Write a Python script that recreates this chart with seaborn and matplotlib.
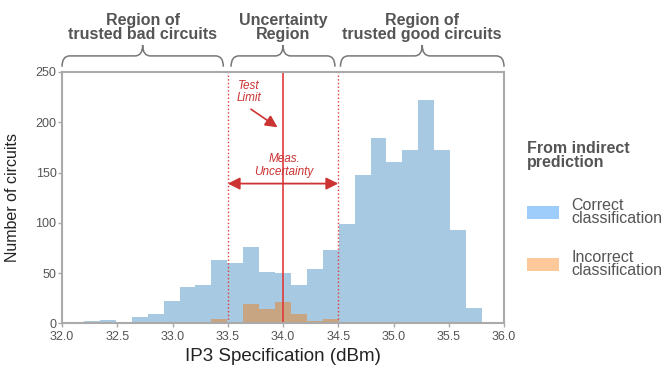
import numpy as np
import pandas as pd
import matplotlib
matplotlib.use("Agg")
import matplotlib.pyplot as plt
from matplotlib.path import Path
from matplotlib.patches import PathPatch, Patch
import matplotlib.transforms as mtransforms
import seaborn as sns

# histogram: 25 bins between 32.2 and 35.8 dBm
bin_lo, bin_hi, n_bins = 32.2, 35.8, 25
correct_counts = [2, 3, 0, 6, 9, 22, 36, 38, 63, 60, 76, 51, 50,
                  38, 54, 73, 99, 148, 184, 160, 172, 222, 172, 93, 15]
incorrect_counts = [0, 0, 0, 0, 0, 0, 0, 0, 4, 1, 19, 14, 21,
                    9, 2, 4, 0, 0, 0, 0, 0, 0, 0, 0, 0]
legend_labels = ["Correct\nclassification", "Incorrect\nclassification"]
region_labels = ["Region of\ntrusted bad circuits", "Uncertainty\nRegion",
                 "Region of\ntrusted good circuits"]
region_bounds = [(32.0, 33.46), (33.53, 34.47), (34.52, 36.0)]
test_limit = 34.0
guard_band = (33.5, 34.5)

edges = np.linspace(bin_lo, bin_hi, n_bins + 1)
centers = (edges[:-1] + edges[1:]) / 2
df = pd.DataFrame({"ip3": centers, "correct": correct_counts,
                   "incorrect": incorrect_counts})

sns.set_theme(style="white")
plt.rcParams['font.family'] = ['Liberation Sans', 'DejaVu Sans']

gray_txt = "#555555"
axis_gray = "#AAAAAA"
red = "#E03A3A"
dark_red = "#CC3333"
blue = "#A7C9E1"
orange = "#D7965A"

fig = plt.figure(figsize=(6.7, 3.68), dpi=100)
ax = fig.add_axes([62 / 670, 1 - 323.3 / 368, 442 / 670, 251.3 / 368])

sns.histplot(data=df, x="ip3", weights="correct", bins=n_bins,
             binrange=(bin_lo, bin_hi), element="step",
             fill=True, color=blue, alpha=1, linewidth=0, ax=ax)
sns.histplot(data=df, x="ip3", weights="incorrect", bins=n_bins,
             binrange=(bin_lo, bin_hi), element="step",
             fill=True, color=orange, alpha=0.7, linewidth=0, ax=ax)

ax.set_xlim(32.0, 36.0)
ax.set_ylim(0, 250)
ax.set_xticks(np.arange(32.0, 36.01, 0.5))
ax.set_xticklabels([f"{v:.1f}" for v in np.arange(32.0, 36.01, 0.5)])
ax.set_yticks(np.arange(0, 251, 50))
ax.tick_params(axis="both", which="both", length=3, width=1, color=axis_gray,
               labelsize=9, labelcolor=gray_txt, direction="out",
               bottom=True, left=True)
ax.tick_params(axis="x", pad=2.5)
ax.tick_params(axis="y", pad=1)
for s in ax.spines.values():
    s.set_color(axis_gray)
    s.set_linewidth(1.5)

ax.set_xlabel("IP3 Specification (dBm)", fontsize=13.5, color="#222222", labelpad=4)
ax.set_ylabel("Number of circuits", fontsize=11.5, color="#222222", labelpad=11)

# test limit and measurement uncertainty
ax.axvline(guard_band[0], color=red, lw=1, ls=":")
ax.axvline(guard_band[1], color=red, lw=1, ls=":")
ax.axvline(test_limit, color=red, lw=1.2)
ax.annotate("", xy=(guard_band[0], 139), xytext=(guard_band[1], 139),
            arrowprops=dict(arrowstyle="<|-|>,head_length=0.6,head_width=0.3",
                            color=dark_red, lw=1.3, shrinkA=0, shrinkB=0))
ax.text(34.01, 157, "Meas.\nUncertainty", color=dark_red, fontsize=8.5,
        style="italic", ha="center", va="center", linespacing=1.05)
ax.text(33.69, 230, "Test\nLimit", color=dark_red, fontsize=8.5,
        style="italic", ha="center", va="center", linespacing=1.05)
ax.annotate("", xy=(33.95, 195), xytext=(33.71, 213),
            arrowprops=dict(arrowstyle="-|>,head_length=0.6,head_width=0.3",
                            color=dark_red, lw=1.2, shrinkA=0, shrinkB=0))

# curly braces above the plot
trans = mtransforms.blended_transform_factory(ax.transData, ax.transAxes)
y_end, y_mid, y_top = 1.021, 1.064, 1.107
r = 0.07
for (x0, x1), lab in zip(region_bounds, region_labels):
    xc = (x0 + x1) / 2
    verts = [(x0, y_end), (x0, y_mid), (x0 + r, y_mid),
             (xc - r, y_mid), (xc, y_mid), (xc, y_top),
             (xc, y_mid), (xc + r, y_mid),
             (x1 - r, y_mid), (x1, y_mid), (x1, y_end)]
    codes = [Path.MOVETO, Path.CURVE3, Path.CURVE3,
             Path.LINETO, Path.CURVE3, Path.CURVE3,
             Path.CURVE3, Path.CURVE3,
             Path.LINETO, Path.CURVE3, Path.CURVE3]
    ax.add_patch(PathPatch(Path(verts, codes), transform=trans, fill=False,
                           edgecolor="#777777", lw=1.1, clip_on=False))
    ax.text(xc, 1.178, lab, transform=trans, ha="center", va="center",
            fontsize=11.5, fontweight="bold", color=gray_txt, linespacing=0.88)

# legend
handles = [Patch(facecolor="#9FCDFB", edgecolor="none"),
           Patch(facecolor="#FDC99A", edgecolor="none")]
leg = fig.legend(handles, legend_labels, title="From indirect\nprediction",
                 loc="upper left", bbox_to_anchor=(513 / 670, 1 - 127 / 368),
                 frameon=False, fontsize=11.5, title_fontsize=11.5,
                 handlelength=2.0, handleheight=0.9, handletextpad=0.75,
                 labelspacing=1.5, labelcolor=gray_txt)
leg.get_title().set_fontweight("bold")
leg.get_title().set_color(gray_txt)
leg.get_title().set_linespacing(0.9)
leg._legend_box.align = "left"
leg._legend_box.sep = 20
for t in leg.get_texts():
    t.set_linespacing(0.85)

fig.savefig("out.png", dpi=100)
